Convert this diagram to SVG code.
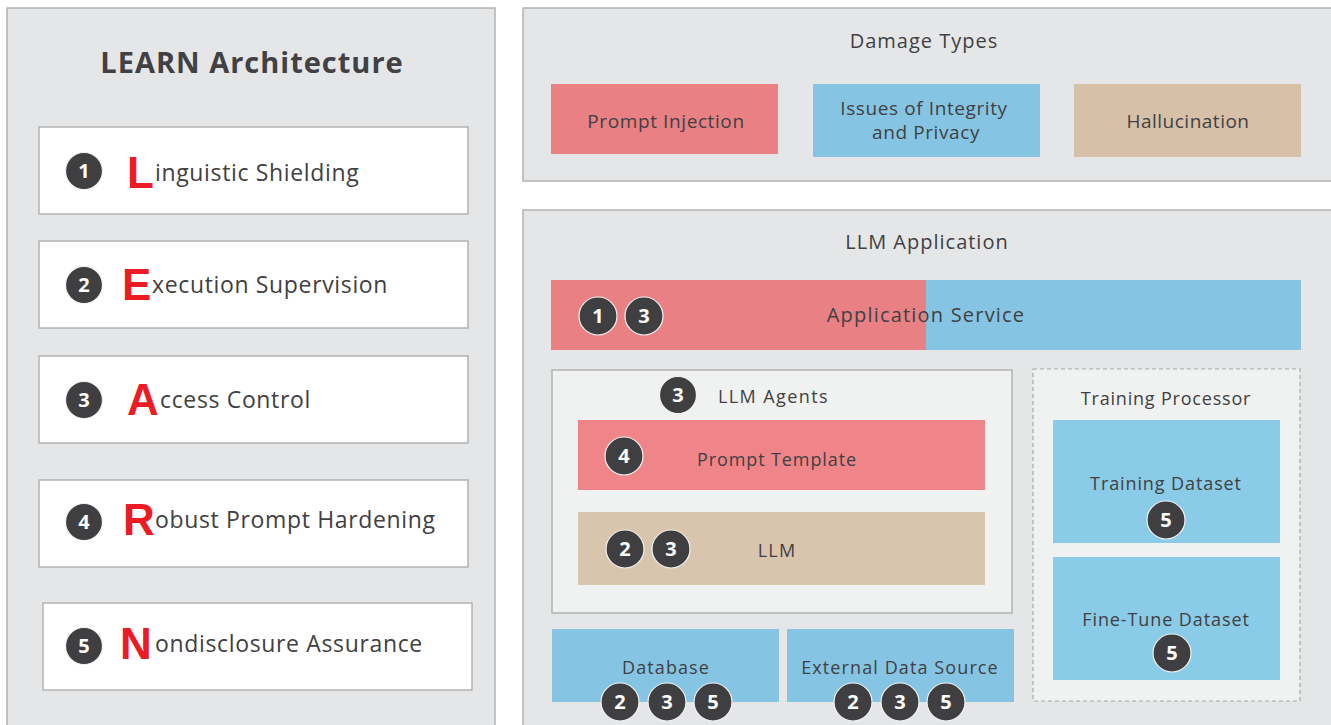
<svg xmlns="http://www.w3.org/2000/svg" width="1331" height="725" viewBox="0 0 1331 725">
<style>
.panel{fill:#e5e6e8;stroke:#b3b3b3;stroke-width:1.5}
.wbox{fill:#fff;stroke:#b3b3b3;stroke-width:1.5}
.inner{fill:#f0f1f1;stroke:#b3b3b3;stroke-width:1.5}
.dash{fill:#f0f1f1;stroke:#a8a8a8;stroke-width:1.2;stroke-dasharray:4 3}
.red{fill:#e98084}
.blue{fill:#85c5e3}
.tan{fill:#d6c0a8}
text{font-family:"Open Sans","Liberation Sans",sans-serif;fill:#414042}
.t{font-size:19px;text-anchor:middle;letter-spacing:0.9px}
.lt{font-size:23px;letter-spacing:0.65px}
.big{font-family:"Liberation Sans","Open Sans",sans-serif;font-size:44px;font-weight:bold;fill:#ed1c24}
.badge circle{fill:#3f3f42;stroke:#f2f2f2;stroke-width:1.2}
.badge text{fill:#fff;font-weight:bold;font-size:20px;text-anchor:middle;letter-spacing:0}
</style>
<rect width="1331" height="725" fill="#fff"/>

<g id="learn">
<rect class="panel" x="7" y="8" width="488" height="730"/>
<text x="252" y="73" text-anchor="middle" style="font-size:29px;font-weight:bold;letter-spacing:1px">LEARN Architecture</text>
</g>

<g id="item1">
<rect class="wbox" x="39" y="127" width="429" height="87"/>
<g class="badge"><circle cx="84" cy="171" r="18.5"/><text x="84" y="178">1</text></g>
<text x="127" y="188" class="big">L</text><text x="155" y="181" class="lt">inguistic Shielding</text>
</g>
<g id="item2">
<rect class="wbox" x="39" y="241" width="429" height="87"/>
<g class="badge"><circle cx="84" cy="285" r="18.5"/><text x="84" y="292">2</text></g>
<text x="122" y="300" class="big">E</text><text x="152" y="293" class="lt">xecution Supervision</text>
</g>
<g id="item3">
<rect class="wbox" x="39" y="356" width="429" height="87"/>
<g class="badge"><circle cx="84" cy="400" r="18.5"/><text x="84" y="407">3</text></g>
<text x="127" y="415" class="big">A</text><text x="160" y="408" class="lt">ccess Control</text>
</g>
<g id="item4">
<rect class="wbox" x="39" y="480" width="429" height="87"/>
<g class="badge"><circle cx="84" cy="522" r="18.5"/><text x="84" y="529">4</text></g>
<text x="123" y="535" class="big">R</text><text x="155" y="528" class="lt">obust Prompt Hardening</text>
</g>
<g id="item5">
<rect class="wbox" x="43" y="603" width="429" height="87"/>
<g class="badge"><circle cx="84" cy="646" r="18.5"/><text x="84" y="653">5</text></g>
<text x="120" y="659" class="big">N</text><text x="155" y="652" class="lt">ondisclosure Assurance</text>
</g>

<g id="damage">
<rect class="panel" x="523" y="8" width="815" height="173"/>
<text x="924" y="48" class="t" style="font-size:20px;letter-spacing:1px">Damage Types</text>
<rect class="red" x="551" y="84" width="227" height="70"/>
<text x="666" y="128" class="t" style="letter-spacing:0.6px">Prompt Injection</text>
<rect class="blue" x="813" y="84" width="227" height="73"/>
<text x="924" y="115" class="t" style="letter-spacing:0.6px">Issues of Integrity</text>
<text x="926" y="139" class="t" style="letter-spacing:0.6px">and Privacy</text>
<rect class="tan" x="1074" y="84" width="227" height="73"/>
<text x="1188" y="128" class="t" style="letter-spacing:0.5px">Hallucination</text>
</g>

<g id="llmapp">
<rect class="panel" x="523" y="210" width="815" height="530"/>
<text x="927" y="249" class="t" style="font-size:20px;letter-spacing:1px">LLM Application</text>
</g>

<g id="appservice">
<rect class="red" x="551" y="280" width="375" height="70"/>
<rect class="blue" x="926" y="280" width="375" height="70"/>
<text x="926" y="322" class="t" style="font-size:20px;letter-spacing:1.2px">Application Service</text>
<g class="badge"><circle cx="598" cy="316" r="19"/><text x="598" y="323">1</text>
<circle cx="644" cy="316" r="19"/><text x="644" y="323">3</text></g>
</g>

<g id="agents">
<rect class="inner" x="552" y="370" width="460" height="243"/>
<g class="badge"><circle cx="678" cy="395" r="18.5"/><text x="678" y="402">3</text></g>
<text x="718" y="403" style="font-size:18px;letter-spacing:1.4px">LLM Agents</text>
</g>
<g id="prompttemplate">
<rect x="578" y="420" width="407" height="70" fill="#ef8589"/>
<g class="badge"><circle cx="624" cy="456" r="19"/><text x="624" y="463">4</text></g>
<text x="777" y="466" class="t" style="font-size:18px">Prompt Template</text>
</g>
<g id="llm">
<rect x="578" y="512" width="407" height="73" fill="#d9c4ad"/>
<g class="badge"><circle cx="625" cy="549" r="19"/><text x="625" y="556">2</text>
<circle cx="671" cy="549" r="19"/><text x="671" y="556">3</text></g>
<text x="777" y="557" class="t" style="font-size:18px;letter-spacing:1.2px">LLM</text>
</g>

<g id="training">
<rect class="dash" x="1033" y="369" width="267" height="332"/>
<text x="1166" y="405" class="t" style="font-size:18px;letter-spacing:0.8px">Training Processor</text>
</g>
<g id="trainingdataset">
<rect x="1053" y="420" width="227" height="123" fill="#8acbe7"/>
<text x="1166" y="490" class="t" style="font-size:18px">Training Dataset</text>
<g class="badge"><circle cx="1166" cy="520" r="19"/><text x="1166" y="527">5</text></g>
</g>
<g id="finetune">
<rect x="1053" y="557" width="227" height="123" fill="#8acbe7"/>
<text x="1166" y="626" class="t" style="font-size:18px">Fine-Tune Dataset</text>
<g class="badge"><circle cx="1172" cy="653" r="19"/><text x="1172" y="660">5</text></g>
</g>

<g id="database">
<rect class="blue" x="552" y="629" width="227" height="73"/>
<text x="666" y="674" class="t" style="font-size:18px;letter-spacing:1.1px">Database</text>
<g class="badge"><circle cx="620" cy="702" r="19"/><text x="620" y="709">2</text>
<circle cx="667" cy="702" r="19"/><text x="667" y="709">3</text>
<circle cx="713" cy="702" r="19"/><text x="713" y="709">5</text></g>
</g>
<g id="external">
<rect class="blue" x="787" y="629" width="227" height="73"/>
<text x="900" y="674" class="t" style="font-size:18px;letter-spacing:1.1px">External Data Source</text>
<g class="badge"><circle cx="853" cy="702" r="19"/><text x="853" y="709">2</text>
<circle cx="900" cy="702" r="19"/><text x="900" y="709">3</text>
<circle cx="946" cy="702" r="19"/><text x="946" y="709">5</text></g>
</g>

<g id="connectors"></g>
</svg>
